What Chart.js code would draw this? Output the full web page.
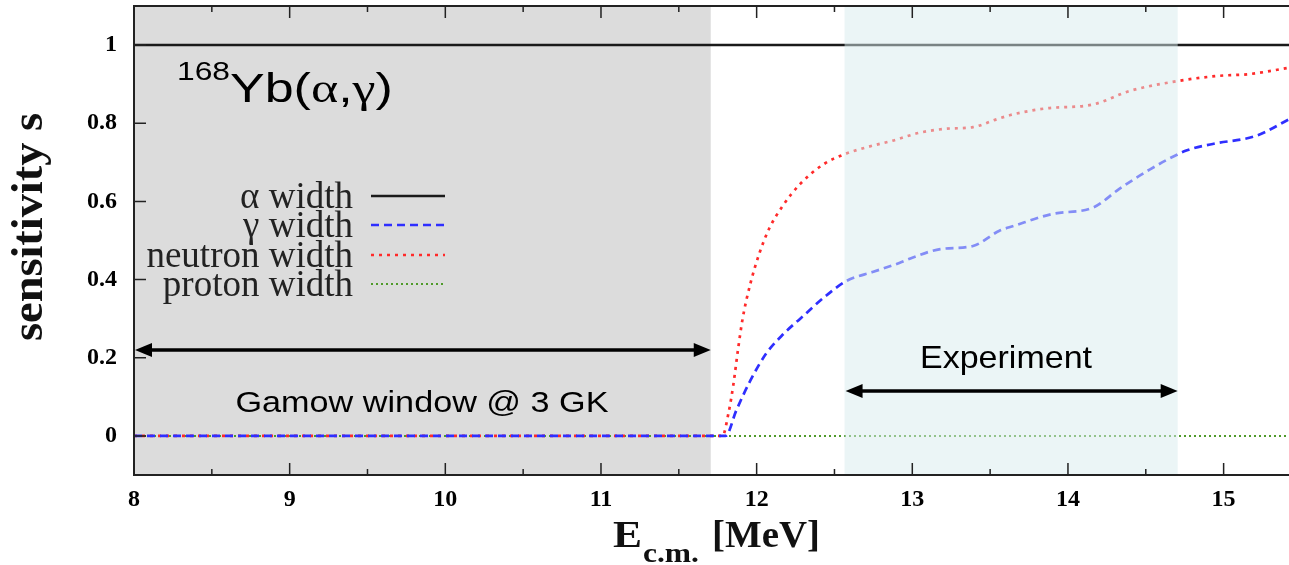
<!DOCTYPE html>
<html>
<head>
<meta charset="utf-8">
<script src="https://cdn.jsdelivr.net/npm/chart.js@4"></script>
<style>
html, body { margin: 0; padding: 0; background: #fff; }
canvas { display: block; }
</style>
</head>
<body>
<canvas id="grafico" width="1289" height="565"></canvas>
<script>
// valores
const xTicks = [8, 9, 10, 11, 12, 13, 14, 15];
const yTicks = [0, 0.2, 0.4, 0.6, 0.8, 1];
const seriesNames = ['α width', 'γ width', 'neutron width', 'proton width'];

const alphaE = [8, 15.42];
const alphaS = [1, 1];

const gammaE = [8, 11.80, 11.87, 11.96, 12.06, 12.17, 12.28, 12.45, 12.58, 12.75, 12.92, 13.00, 13.18, 13.39, 13.56, 13.65, 13.90, 14.16, 14.33, 14.51, 14.76, 14.93, 15.21, 15.42];
const gammaS = [0, 0, 0.066, 0.142, 0.21, 0.26, 0.30, 0.36, 0.397, 0.42, 0.443, 0.456, 0.478, 0.486, 0.525, 0.537, 0.568, 0.584, 0.632, 0.678, 0.73, 0.747, 0.768, 0.81];

const neutronE = [8, 11.78, 11.82, 11.85, 11.88, 11.91, 11.96, 12.02, 12.08, 12.17, 12.28, 12.43, 12.56, 12.72, 12.87, 13.05, 13.22, 13.39, 13.54, 13.65, 13.86, 14.16, 14.40, 14.72, 14.96, 15.17, 15.42];
const neutronS = [0, 0, 0.06, 0.13, 0.22, 0.30, 0.39, 0.47, 0.53, 0.59, 0.645, 0.695, 0.72, 0.74, 0.755, 0.776, 0.786, 0.79, 0.81, 0.823, 0.838, 0.848, 0.883, 0.909, 0.921, 0.926, 0.942];

const protonE = [8, 15.42];
const protonS = [0, 0];

// ventanas sombreadas (MeV)
const gamowWindow = [8, 11.705];
const expWindow = [12.565, 14.705];

const puntos = (xs, ys) => xs.map((x, i) => ({ x: x, y: ys[i] }));

// estilos de cada serie
const estilos = [
    { color: '#1a1a1a', width: 2.5, dash: [] },
    { color: '#2f2fff', width: 2.7, dash: [8, 5] },
    { color: '#ff2a2a', width: 2.7, dash: [3, 5] },
    { color: '#4f9a2a', width: 2, dash: [2, 3] }
];

function texto(ctx, str, x, y, font, align, ancho) {
    ctx.font = font;
    const w = ctx.measureText(str).width;
    const k = ancho ? ancho / w : 1;
    let x0 = x;
    if (align === 'center') x0 = x - w * k / 2;
    if (align === 'right') x0 = x - w * k;
    ctx.save();
    ctx.translate(x0, y);
    ctx.scale(k, 1);
    ctx.textAlign = 'left';
    ctx.textBaseline = 'alphabetic';
    ctx.fillText(str, 0, 0);
    ctx.restore();
    return w * k;
}

function flecha(ctx, x1, x2, y) {
    const h = 17, w = 7;
    ctx.save();
    ctx.strokeStyle = '#000';
    ctx.fillStyle = '#000';
    ctx.lineWidth = 3.5;
    ctx.beginPath();
    ctx.moveTo(x1 + h - 2, y);
    ctx.lineTo(x2 - h + 2, y);
    ctx.stroke();
    ctx.beginPath();
    ctx.moveTo(x1, y); ctx.lineTo(x1 + h, y - w); ctx.lineTo(x1 + h, y + w); ctx.closePath();
    ctx.fill();
    ctx.beginPath();
    ctx.moveTo(x2, y); ctx.lineTo(x2 - h, y - w); ctx.lineTo(x2 - h, y + w); ctx.closePath();
    ctx.fill();
    ctx.restore();
}

const fondo = {
    id: 'fondo',
    beforeDatasetsDraw(chart) {
        const { ctx, chartArea: a, scales: { x } } = chart;
        ctx.save();
        ctx.fillStyle = '#dcdcdc';
        const g0 = x.getPixelForValue(gamowWindow[0]), g1 = x.getPixelForValue(gamowWindow[1]);
        ctx.fillRect(g0, a.top, g1 - g0, a.bottom - a.top);
        ctx.restore();
    },
    afterDatasetsDraw(chart) {
        const { ctx, chartArea: a, scales: { x, y } } = chart;
        ctx.save();
        // ventana del experimento (semi transparente)
        ctx.fillStyle = 'rgba(215,235,237,0.5)';
        const e0 = x.getPixelForValue(expWindow[0]), e1 = x.getPixelForValue(expWindow[1]);
        ctx.fillRect(e0, a.top, e1 - e0, a.bottom - a.top);

        // marco
        ctx.strokeStyle = '#222';
        ctx.lineWidth = 2;
        ctx.beginPath();
        ctx.moveTo(a.right, a.top); ctx.lineTo(a.left, a.top);
        ctx.lineTo(a.left, a.bottom); ctx.lineTo(a.right, a.bottom);
        ctx.stroke();

        // ticks hacia adentro
        ctx.lineWidth = 1.5;
        ctx.beginPath();
        xTicks.forEach(v => {
            const px = x.getPixelForValue(v);
            ctx.moveTo(px, a.bottom); ctx.lineTo(px, a.bottom - 12);
            ctx.moveTo(px, a.top); ctx.lineTo(px, a.top + 12);
            const pm = x.getPixelForValue(v + 0.5);
            if (pm < a.right) {
                ctx.moveTo(pm, a.bottom); ctx.lineTo(pm, a.bottom - 6);
                ctx.moveTo(pm, a.top); ctx.lineTo(pm, a.top + 6);
            }
        });
        yTicks.forEach(v => {
            const py = y.getPixelForValue(v);
            ctx.moveTo(a.left, py); ctx.lineTo(a.left + 12, py);
        });
        ctx.stroke();

        // flechas
        const yg = y.getPixelForValue(0.22);
        flecha(ctx, x.getPixelForValue(gamowWindow[0]) + 1, x.getPixelForValue(gamowWindow[1]), yg);
        const ye = y.getPixelForValue(0.115);
        flecha(ctx, e0 + 1, e1, ye);

        // textos de anotacion
        ctx.fillStyle = '#000';
        texto(ctx, 'Gamow window @ 3 GK', 422, y.getPixelForValue(0.061), '30px "Liberation Sans"', 'center', 373);
        texto(ctx, 'Experiment', 920, y.getPixelForValue(0.174), '32px "Liberation Sans"', 'left', 172);
        texto(ctx, '168', 177, 80, '26px "Liberation Sans"', 'left', 53);
        // Yb(α,γ) con letras griegas tipo Symbol
        const k = 1.3;
        let px = 230;
        [['Yb(', 'Liberation Sans'], ['α', 'Liberation Serif'], [',', 'Liberation Sans'], ['γ', 'Liberation Serif'], [')', 'Liberation Sans']].forEach(([s, f]) => {
            ctx.font = '40px "' + f + '"';
            px += texto(ctx, s, px, 102, ctx.font, 'left', ctx.measureText(s).width * k);
        });

        // leyenda
        const baselines = [208, 237, 267, 296];
        seriesNames.forEach((name, i) => {
            ctx.fillStyle = '#222';
            texto(ctx, name, 353, baselines[i], '37px "Liberation Serif"', 'right');
            const st = estilos[i];
            ctx.strokeStyle = st.color;
            ctx.lineWidth = st.width;
            ctx.setLineDash(st.dash);
            ctx.beginPath();
            ctx.moveTo(371, baselines[i] - 12);
            ctx.lineTo(445, baselines[i] - 12);
            ctx.stroke();
            ctx.setLineDash([]);
        });

        // titulos de ejes
        ctx.fillStyle = '#111';
        ctx.save();
        ctx.translate(42, 227);
        ctx.rotate(-Math.PI / 2);
        texto(ctx, 'sensitivity s', 0, 0, 'bold 44px "Liberation Serif"', 'center', 228);
        ctx.restore();
        texto(ctx, 'E', 613, 547, 'bold 38px "Liberation Serif"', 'left', 29);
        texto(ctx, 'c.m.', 643, 562, 'bold 27px "Liberation Serif"', 'left', 56);
        texto(ctx, '[MeV]', 712, 547, 'bold 38px "Liberation Serif"', 'left', 108);
        ctx.restore();
    }
};

const fuenteTicks = { family: 'Liberation Serif', weight: 'bold', size: 24 };

const ctx = document.getElementById('grafico').getContext('2d');
const grafico = new Chart(ctx, {
    type: 'scatter',
    data: {
        datasets: [
            { label: seriesNames[0], data: puntos(alphaE, alphaS) },
            { label: seriesNames[1], data: puntos(gammaE, gammaS), cubicInterpolationMode: 'monotone' },
            { label: seriesNames[2], data: puntos(neutronE, neutronS), cubicInterpolationMode: 'monotone' },
            { label: seriesNames[3], data: puntos(protonE, protonS) }
        ].map((d, i) => Object.assign(d, {
            showLine: true,
            pointRadius: 0,
            borderColor: estilos[i].color,
            borderWidth: estilos[i].width,
            borderDash: estilos[i].dash,
            fill: false
        }))
    },
    options: {
        responsive: false,
        animation: false,
        layout: { padding: { top: 6, right: 0, left: 0, bottom: 0 } },
        plugins: { legend: { display: false }, tooltip: { enabled: false } },
        scales: {
            x: {
                type: 'linear', min: 8, max: 15.42,
                grid: { display: false, drawTicks: false },
                border: { display: false },
                afterBuildTicks: s => { s.ticks = xTicks.map(v => ({ value: v })); },
                afterFit: s => { s.height = 90; s.paddingLeft = 0; s.paddingRight = 0; },
                ticks: { font: fuenteTicks, color: '#000', padding: 10, maxRotation: 0, autoSkip: false, callback: v => String(v) }
            },
            y: {
                type: 'linear', min: -0.1, max: 1.1,
                grid: { display: false, drawTicks: false },
                border: { display: false },
                afterBuildTicks: s => { s.ticks = yTicks.map(v => ({ value: v })); },
                afterFit: s => { s.width = 134; s.paddingTop = 0; s.paddingBottom = 0; },
                ticks: { font: fuenteTicks, color: '#000', padding: 17, callback: v => String(v) }
            }
        }
    },
    plugins: [fondo]
});
</script>
</body>
</html>
